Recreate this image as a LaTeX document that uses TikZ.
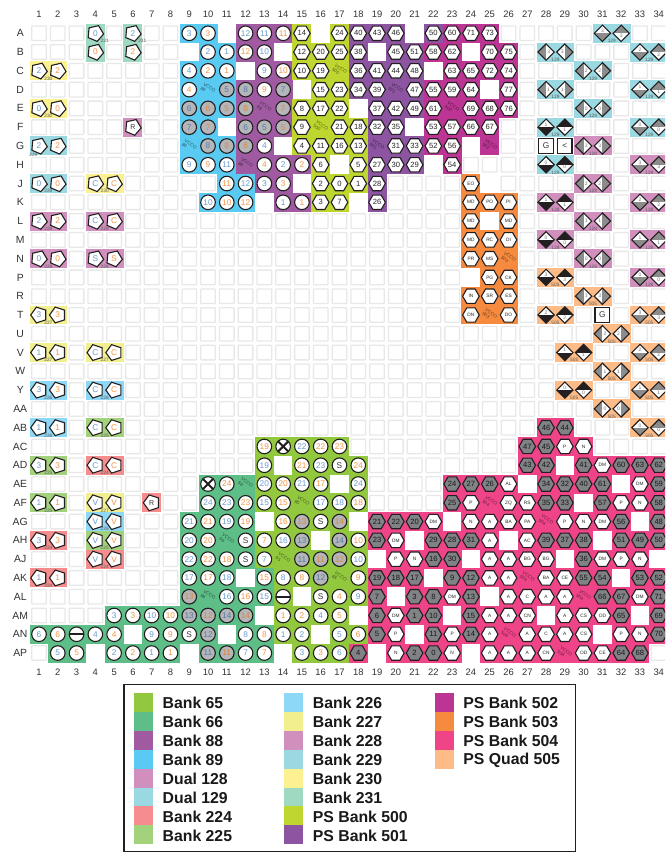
\documentclass[tikz,border=0pt]{standalone}
\usepackage{fontspec}
\setmainfont{Liberation Sans}
\usetikzlibrary{shapes.geometric}
\definecolor{bk65}{HTML}{92C83E}
\definecolor{bk66}{HTML}{5DBE87}
\definecolor{bk88}{HTML}{A05AA2}
\definecolor{bk89}{HTML}{59CAF2}
\definecolor{bk128}{HTML}{D08FBD}
\definecolor{bk129}{HTML}{9AD9E1}
\definecolor{bk224}{HTML}{F68C8D}
\definecolor{bk225}{HTML}{A3D27C}
\definecolor{bk226}{HTML}{8DD7F7}
\definecolor{bk227}{HTML}{F2EF8F}
\definecolor{bk228}{HTML}{D08FBD}
\definecolor{bk229}{HTML}{9AD9E1}
\definecolor{bk230}{HTML}{FBF190}
\definecolor{bk231}{HTML}{A0D9C2}
\definecolor{bk500}{HTML}{BED62F}
\definecolor{bk501}{HTML}{8C54A1}
\definecolor{bk502}{HTML}{BC3594}
\definecolor{bk503}{HTML}{F68B3F}
\definecolor{bk504}{HTML}{EF4488}
\definecolor{bk505}{HTML}{FDBC87}
\definecolor{pinblue}{HTML}{6C9BD2}
\definecolor{pinorange}{HTML}{F79646}
\definecolor{pinline}{HTML}{231F20}
\definecolor{pingray}{HTML}{B4B6B9}
\definecolor{hexgray}{HTML}{808285}
\definecolor{xgray}{HTML}{8C8C8C}
\definecolor{cellline}{HTML}{E8E8E8}
\tikzset{
  cellbox/.style={draw=cellline,fill=white,line width=1.3pt,rounded corners=.6pt,minimum size=14.6pt,inner sep=0pt},
  holebox/.style={fill=white,minimum size=17.2pt,inner sep=0pt},
  pinbase/.style={draw=pinline,line width=1.1pt,fill=white,inner sep=0pt,font=\fontsize{8.3}{9}\selectfont},
  cirk/.style={pinbase,circle,minimum size=14.6pt,text=black!80},
  cirb/.style={cirk,text=pinblue},
  ciro/.style={cirk,text=pinorange},
  grab/.style={cirk,fill=pingray,text=pinblue!80!black},
  grao/.style={cirk,fill=pingray,text=pinorange!90!black},
  xpin/.style={cirk,path picture={\draw[pinline,line width=2pt] (path picture bounding box.north west) -- (path picture bounding box.south east) (path picture bounding box.north east) -- (path picture bounding box.south west);}},
  barpin/.style={cirk,path picture={\draw[pinline,line width=2.4pt] (path picture bounding box.west) -- (path picture bounding box.east);}},
  hexw/.style={pinbase,regular polygon,regular polygon sides=6,minimum size=16.6pt,text=black!85,font=\fontsize{7.6}{8}\selectfont},
  hexs/.style={hexw,font=\fontsize{4.8}{5}\selectfont},
  hexg/.style={hexw,fill=hexgray,text=black!90},
  pent/.style={pinbase,regular polygon,regular polygon sides=5,minimum size=16.6pt},
  penrb/.style={pent,shape border rotate=-23,text=pinblue},
  penro/.style={pent,shape border rotate=-23,text=pinorange},
  penrk/.style={pent,shape border rotate=-23,text=black!80,font=\fontsize{7}{8}\selectfont},
  penlb/.style={pent,shape border rotate=18,text=pinblue},
  penlo/.style={pent,shape border rotate=18,text=pinorange},
  penlk/.style={pent,shape border rotate=18,text=black!80,font=\fontsize{7}{8}\selectfont},
  vcco/.style={rotate=-35,align=left,inner sep=0pt,text=black,text opacity=.55,font=\fontsize{4.7}{5}\selectfont},
  sqpin/.style={draw=pinline,fill=white,line width=1.3pt,minimum size=14.6pt,inner sep=0pt,text=black!80,font=\fontsize{8.3}{9}\selectfont},
  xcvr/.style={draw=pinline,line width=1.1pt,fill=white,diamond,shape aspect=1,minimum size=16.8pt,inner sep=0pt},
  xlab/.style={inner sep=0pt,text=black!55,font=\fontsize{5}{6}\selectfont},
  vsplita/.style={xcvr,path picture={\fill[xgray] (path picture bounding box.north west) rectangle (path picture bounding box.south);},label={[xlab,xshift=2.6pt]center:#1}},
  vsplitb/.style={xcvr,path picture={\fill[xgray] (path picture bounding box.north east) rectangle (path picture bounding box.south);},label={[xlab,xshift=-2.6pt]center:#1}},
  hsplita/.style={xcvr,path picture={\fill[xgray] (path picture bounding box.south west) rectangle (path picture bounding box.east);},label={[xlab,yshift=2.4pt]center:#1}},
  hsplitb/.style={xcvr,path picture={\fill[xgray] (path picture bounding box.north west) rectangle (path picture bounding box.east);},label={[xlab,yshift=-2.4pt]center:#1}},
  blacka/.style={xcvr,path picture={\fill[pinline] (path picture bounding box.south west) rectangle (path picture bounding box.east);},label={[xlab,yshift=2.4pt]center:#1}},
  blackb/.style={xcvr,path picture={\fill[pinline] (path picture bounding box.north west) rectangle (path picture bounding box.east);},label={[xlab,yshift=-2.4pt]center:#1}},
  banklab/.style={inner sep=0pt,text=black!65,font=\fontsize{4.8}{5}\selectfont},
  ticklab/.style={inner sep=0pt,text=black!80,font=\fontsize{9.4}{10}\selectfont},
  rowlab/.style={inner sep=0pt,text=black!80,font=\fontsize{10.4}{11}\selectfont},
  swatch/.style={minimum size=19pt,inner sep=0pt},
  legtext/.style={anchor=west,inner sep=0pt,text=black!90,font=\fontsize{15.8}{17}\selectfont\bfseries},
}
% pins of one bank in one row: col/kind/text
\newcommand{\pins}[3]{\foreach \col/\knd/\lab in {#3}{
  \fill[bk#2] (\col-.505,#1-.505) rectangle (\col+.505,#1+.505);
  \node[\knd] (pin#1-\col) at (\col,#1) {\lab};}}
\newcommand{\holes}[2]{\foreach \col in {#2}{\node[holebox] (hole#1-\col) at (\col,#1) {};}}
% pair of transceiver pins: row, bank, first col, kind, text
\newcommand{\duo}[5]{
  \fill[bk#2] (#3-.505,#1-.505) rectangle (#3+1.505,#1+.505);
  \node[#4a=#5] (xa#1-#3) at (#3,#1) {};
  \node[#4b=#5] (xb#1-#3) at (#3+1,#1) {};
  \node[banklab] (xl#1-#3) at (#3+.5,#1+.41) {#2};}
\begin{document}
\begin{tikzpicture}[x=1pt,y=-1pt]
\clip (0,0) rectangle (665,853);
\fill[white] (0,0) rectangle (665,853);
\begin{scope}[x=18.78pt,y=-18.78pt,shift={(20.22pt,-14.52pt)}]
% grid and labels
\foreach \row in {1,...,34}{\foreach \col in {1,...,34}{\node[cellbox] (cell\row-\col) at (\col,\row) {};}}
\foreach \col in {1,...,34}{
  \node[ticklab] (top\col) at (\col,0) {\col};
  \node[ticklab] (bot\col) at (\col,35) {\col};}
\foreach \rowname [count=\row] in {A,B,C,D,E,F,G,H,J,K,L,M,N,P,R,T,U,V,W,Y,AA,AB,AC,AD,AE,AF,AG,AH,AJ,AK,AL,AM,AN,AP}{
  \node[rowlab] (rowname\row) at (0,\row) {\rowname};}
% A
\pins{1}{231}{4/penrb/0,6/penrb/2}
\pins{1}{89}{9/cirb/3,10/ciro/3}
\pins{1}{88}{12/cirb/12,13/cirb/11,14/ciro/11}
\pins{1}{500}{15/hexw/14,17/hexw/24}
\pins{1}{501}{18/hexw/40,19/hexw/43,20/hexw/46,22/hexw/50}
\pins{1}{502}{23/hexw/60,24/hexw/71,25/hexw/73}
\holes{1}{11,16,21}
\duo{1}{129}{31}{hsplit}{3}
% B
\pins{2}{231}{4/penro/0,6/penro/2}
\pins{2}{89}{10/cirb/2,11/cirb/1}
\pins{2}{88}{12/ciro/12,13/cirb/10}
\pins{2}{500}{15/hexw/12,16/hexw/20,17/hexw/25}
\pins{2}{501}{18/hexw/38,20/hexw/45,21/hexw/51}
\pins{2}{502}{22/hexw/58,23/hexw/62,25/hexw/70,26/hexw/75}
\holes{2}{9,14,19,24}
\duo{2}{129}{28}{vsplit}{3}
\duo{2}{129}{33}{hsplit}{2}
% C
\pins{3}{230}{1/penrb/2,2/penro/2}
\pins{3}{89}{9/cirb/4,10/ciro/2,11/ciro/1}
\pins{3}{88}{13/cirb/9,14/ciro/10}
\pins{3}{500}{15/hexw/10,16/hexw/19,17/vcco/VCCO\\500}
\pins{3}{501}{18/hexw/36,19/hexw/41,20/hexw/44,21/hexw/48}
\pins{3}{502}{23/hexw/63,24/hexw/65,25/hexw/72,26/hexw/74}
\holes{3}{12,22}
\duo{3}{129}{30}{vsplit}{2}
% D
\pins{4}{89}{9/ciro/4,10/vcco/VCCO\\89,11/grab/5}
\pins{4}{88}{12/grab/8,13/ciro/9,14/grab/7}
\pins{4}{500}{16/hexw/15,17/hexw/23}
\pins{4}{501}{18/hexw/34,19/hexw/39,20/vcco/VCCO\\501,21/hexw/47}
\pins{4}{502}{22/hexw/55,23/hexw/59,24/hexw/64,26/hexw/77}
\holes{4}{15,25}
\duo{4}{129}{28}{vsplit}{1}
\duo{4}{129}{33}{hsplit}{1}
% E
\pins{5}{230}{1/penrb/0,2/penro/0}
\pins{5}{89}{9/grab/6,10/grao/6,11/grao/5}
\pins{5}{88}{12/grao/8,13/vcco/VCCO\\88,14/grao/7}
\pins{5}{500}{15/hexw/8,16/hexw/17,17/hexw/22}
\pins{5}{501}{19/hexw/37,20/hexw/42,21/hexw/49}
\pins{5}{502}{22/hexw/61,23/vcco/VCCO\\502,24/hexw/69,25/hexw/68,26/hexw/76}
\holes{5}{18}
\duo{5}{129}{30}{vsplit}{0}
% F
\pins{6}{228}{6/penrk/R}
\pins{6}{89}{9/grab/7,10/grao/7}
\pins{6}{88}{12/grab/6,13/grab/5,14/grao/5}
\pins{6}{500}{15/hexw/9,16/vcco/VCCO\\500,17/hexw/21,18/hexw/18}
\pins{6}{501}{19/hexw/32,20/hexw/35}
\pins{6}{502}{22/hexw/53,23/hexw/57,24/hexw/66,25/hexw/67}
\holes{6}{11,21}
\duo{6}{129}{28}{black}{1}
\duo{6}{129}{33}{hsplit}{0}
% G
\pins{7}{229}{1/penrb/2,2/penro/2}
\pins{7}{89}{9/vcco/VCCO\\89,10/grab/8,11/grao/8}
\pins{7}{88}{12/grao/6,13/cirb/4}
\pins{7}{500}{15/hexw/4,16/hexw/11,17/hexw/16,18/hexw/13}
\pins{7}{501}{19/vcco/VCCO\\501,20/hexw/31,21/hexw/33}
\pins{7}{502}{22/hexw/52,23/hexw/56,25/vcco/VCCO\\502}
\holes{7}{14,24}
\node[sqpin] (sqG) at (28,7) {G};
\node[sqpin] (sqlt) at (29,7) {<};
\duo{7}{128}{30}{vsplit}{3}
% H
\pins{8}{89}{9/cirb/9,10/ciro/9,11/cirb/11}
\pins{8}{88}{12/vcco/VCCO\\88,13/ciro/4,14/cirb/2,15/ciro/2}
\pins{8}{500}{16/hexw/6,18/hexw/5}
\pins{8}{501}{19/hexw/27,20/hexw/30,21/hexw/29}
\pins{8}{502}{23/hexw/54}
\holes{8}{17,22}
\duo{8}{129}{28}{black}{0}
\duo{8}{128}{33}{hsplit}{3}
% J
\pins{9}{229}{1/penrb/0,2/penro/0}
\pins{9}{230}{4/penrb/C,5/penro/C}
\pins{9}{89}{11/ciro/11,12/cirb/12}
\pins{9}{88}{13/cirb/3,14/ciro/3}
\pins{9}{500}{16/hexw/2,17/hexw/0,18/hexw/1}
\pins{9}{501}{19/hexw/28}
\pins{9}{503}{24/hexs/EO}
\holes{9}{15,25}
\duo{9}{128}{30}{vsplit}{2}
% K
\pins{10}{89}{10/cirb/10,11/ciro/10,12/ciro/12}
\pins{10}{88}{14/cirb/1,15/ciro/1}
\pins{10}{500}{16/hexw/3,17/hexw/7}
\pins{10}{501}{19/hexw/26}
\pins{10}{503}{24/hexs/MD,25/hexs/PO,26/hexs/PI}
\holes{10}{13,18}
\duo{10}{128}{28}{black}{1}
\duo{10}{128}{33}{hsplit}{2}
% L
\pins{11}{228}{1/penrb/2,2/penro/2,4/penrb/C,5/penro/C}
\pins{11}{503}{24/hexs/MD,26/hexs/MD}
\holes{11}{25}
\duo{11}{128}{30}{vsplit}{1}
% M
\pins{12}{503}{24/hexs/MD,25/hexs/RC,26/hexs/DI}
\duo{12}{128}{28}{black}{0}
\duo{12}{128}{33}{hsplit}{1}
% N
\pins{13}{228}{1/penrb/0,2/penro/0,4/penrb/S,5/penro/S}
\pins{13}{503}{24/hexs/PR,25/hexs/MS,26/vcco/VCCO\\503}
\duo{13}{128}{30}{vsplit}{0}
% P
\pins{14}{503}{25/hexs/PG,26/hexs/CK}
\holes{14}{24}
\duo{14}{505}{28}{black}{3}
\duo{14}{128}{33}{hsplit}{0}
% R
\pins{15}{503}{24/hexs/IN,25/hexs/SR,26/hexs/ES}
\duo{15}{505}{30}{vsplit}{3}
% T
\pins{16}{227}{1/penlb/3,2/penlo/3}
\pins{16}{503}{24/hexs/DN,25/vcco/VCCO\\503,26/hexs/DO}
\duo{16}{505}{28}{black}{2}
\node[sqpin] (sqG2) at (31,16) {G};
\duo{16}{505}{33}{hsplit}{3}
% U
\duo{17}{505}{31}{vsplit}{2}
% V
\pins{18}{227}{1/penlb/1,2/penlo/1,4/penlb/C,5/penlo/C}
\duo{18}{505}{29}{black}{1}
\duo{18}{505}{33}{hsplit}{2}
% W
\duo{19}{505}{31}{vsplit}{1}
% Y
\pins{20}{226}{1/penlb/3,2/penlo/3,4/penlb/C,5/penlo/C}
\duo{20}{505}{29}{black}{0}
\duo{20}{505}{33}{hsplit}{1}
% AA
\duo{21}{505}{31}{vsplit}{0}
% AB
\pins{22}{226}{1/penlb/1,2/penlo/1}
\pins{22}{225}{4/penlb/C,5/penlo/C}
\pins{22}{504}{28/hexg/46,29/hexg/44}
\duo{22}{505}{33}{hsplit}{0}
% AC
\pins{23}{65}{13/ciro/19,14/xpin/{},15/cirb/22,16/ciro/22,17/ciro/23}
\pins{23}{504}{27/hexg/47,28/hexg/45,29/hexs/P,30/hexs/N}
% AD
\pins{24}{225}{1/penlb/3,2/penlo/3}
\pins{24}{224}{4/penlb/C,5/penlo/C}
\pins{24}{65}{13/cirb/19,15/ciro/21,16/cirb/23,17/cirk/S,18/ciro/24}
\pins{24}{504}{27/hexg/43,28/hexg/42,30/hexg/41,31/hexs/DM,32/hexg/60,33/hexg/63,34/hexg/62}
\holes{24}{14,29}
% AE
\pins{25}{66}{10/xpin/{},11/ciro/24,12/vcco/VCCO\\66}
\pins{25}{65}{13/cirb/20,14/ciro/20,15/cirb/21,16/ciro/17,18/cirb/24}
\pins{25}{504}{23/hexg/24,24/hexg/27,25/hexg/26,26/hexs/AL,28/hexg/34,29/hexg/32,30/hexg/40,31/hexg/61,33/hexs/DM,34/hexg/59}
\holes{25}{17,27,32}
% AF
\pins{26}{225}{1/penlb/1,2/penlo/1}
\pins{26}{227}{4/penlb/V,5/penlo/V}
\pins{26}{224}{7/penlk/R}
\pins{26}{66}{10/cirb/24,11/cirb/23,12/ciro/23}
\pins{26}{65}{13/cirb/15,14/ciro/15,15/vcco/VCCO\\65,16/cirb/17,17/cirb/18,18/ciro/18}
\pins{26}{504}{23/hexg/25,24/hexs/P,25/vcco/VCCO\\504,26/hexs/ZQ,27/hexs/RS,28/hexg/35,29/hexg/33,31/hexg/57,32/hexs/P,33/hexs/N,34/hexg/58}
\holes{26}{30}
% AG
\pins{27}{226}{4/penlb/V,5/penlo/V}
\pins{27}{66}{9/cirb/21,10/ciro/21,11/cirb/19,12/ciro/19}
\pins{27}{65}{14/ciro/16,15/grao/13,16/cirk/S,17/grao/14}
\pins{27}{504}{19/hexg/21,20/hexg/22,21/hexg/20,22/hexs/DM,24/hexs/N,25/hexs/A,26/hexs/BA,27/hexs/PA,28/vcco/VCCO\\504,29/hexs/P,30/hexs/N,31/hexs/DM,32/hexg/56,34/hexg/48}
\holes{27}{13,18,23,33}
% AH
\pins{28}{224}{1/penlb/3,2/penlo/3}
\pins{28}{225}{4/penlb/V,5/penlo/V}
\pins{28}{66}{9/cirb/20,10/ciro/20,11/vcco/VCCO\\66,12/cirk/S}
\pins{28}{65}{13/ciro/7,14/cirb/16,15/grab/13,17/grab/14,18/ciro/10}
\pins{28}{504}{19/hexg/23,20/hexs/DM,22/hexg/29,23/hexg/28,24/hexg/31,25/hexs/A,27/hexs/AC,28/hexg/39,29/hexg/37,30/hexg/38,32/hexg/51,33/hexg/49,34/hexg/50}
\holes{28}{16,21,26,31}
% AJ
\pins{29}{224}{4/penlb/V,5/penlo/V}
\pins{29}{66}{9/cirb/22,10/ciro/22,11/ciro/18,12/cirk/S}
\pins{29}{65}{13/cirb/7,14/vcco/VCCO\\65,15/grab/11,16/grao/11,17/grao/12,18/cirb/10}
\pins{29}{504}{20/hexs/P,21/hexs/N,22/hexg/16,23/hexg/30,25/hexs/A,26/hexs/A,27/hexs/BG,28/hexs/BG,30/hexg/36,31/hexs/DM,32/hexs/P,33/hexs/N}
\holes{29}{19,24,29,34}
% AK
\pins{30}{224}{1/penlb/1,2/penlo/1}
\pins{30}{66}{9/cirb/17,10/ciro/17,11/cirb/18,13/ciro/15}
\pins{30}{65}{14/cirb/8,15/ciro/8,16/grab/12,17/vcco/VCCO\\65,18/ciro/9}
\pins{30}{504}{19/hexg/19,20/hexg/18,21/hexg/17,23/hexg/9,24/hexg/12,25/hexs/A,26/hexs/A,27/vcco/VCCO\\504,28/hexs/BA,29/hexs/CE,30/hexg/55,31/hexg/54,33/hexg/53,34/hexg/52}
\holes{30}{12,22,32}
% AL
\pins{31}{66}{9/grao/13,10/vcco/VCCO\\66,11/cirb/16,12/ciro/16,13/cirb/15}
\pins{31}{65}{14/barpin/{},16/cirk/S,17/ciro/4,18/cirb/9}
\pins{31}{504}{19/hexg/7,21/hexg/3,22/hexg/8,23/hexs/DM,24/hexg/13,26/hexs/A,27/hexs/C,28/hexs/A,29/hexs/A,30/vcco/VCCO\\504,31/hexg/66,32/hexg/67,33/hexs/DM,34/hexg/71}
\holes{31}{15,20,25}
% AM
\pins{32}{66}{5/cirb/3,6/ciro/3,7/cirb/10,8/ciro/10,9/grab/13,10/grao/12,11/grab/14,12/grao/14}
\pins{32}{65}{14/ciro/1,15/ciro/2,16/cirb/4,17/ciro/5}
\pins{32}{504}{19/hexg/6,20/hexs/DM,21/hexg/1,22/hexg/10,24/hexg/15,25/hexs/A,26/hexs/A,27/hexs/CN,29/hexs/A,30/hexs/CS,31/hexs/OD,32/hexg/65,34/hexg/69}
\holes{32}{13,18,23,28,33}
% AN
\pins{33}{66}{1/cirb/6,2/ciro/6,3/barpin/{},4/cirb/4,5/ciro/4,7/cirb/9,8/ciro/9,9/cirk/S,10/grab/12,12/cirb/8,13/ciro/8}
\pins{33}{65}{14/cirb/1,15/cirb/2,17/cirb/5,18/ciro/6}
\pins{33}{504}{19/hexg/5,20/hexs/P,22/hexg/11,23/hexs/P,24/hexg/14,25/hexs/A,26/vcco/VCCO\\504,27/hexs/A,28/hexs/C,29/hexs/A,30/hexs/CS,32/hexs/P,33/hexs/N,34/hexg/70}
\holes{33}{6,11,16,21,31}
% AP
\pins{34}{66}{2/cirb/5,3/ciro/5,5/cirb/2,6/ciro/2,7/cirb/1,8/ciro/1,10/grab/11,11/grao/11,12/cirb/7,13/ciro/7}
\pins{34}{65}{15/cirb/3,16/ciro/3,17/cirb/6}
\pins{34}{504}{18/hexg/4,20/hexs/N,21/hexg/2,22/hexg/0,23/hexs/N,25/hexs/A,26/hexs/A,27/hexs/A,28/hexs/CN,29/vcco/VCCO\\504,30/hexs/OD,31/hexs/CE,32/hexg/64,33/hexg/68}
\holes{34}{4,9,14,19,24}
% small bank numbers
\foreach \row/\col/\lab in {1/4/231,1/6/231,3/1/230,5/1/230,9/1/229,9/4/230,11/1/228,11/4/228,13/1/228,13/4/228,
  16/1/227,18/1/227,18/4/227,20/1/226,20/4/226,22/1/226,22/4/225,24/1/225,24/4/224,26/1/225,26/4/227,
  27/4/226,28/1/224,28/4/225,29/4/224,30/1/224}{
  \node[banklab] (bank\row-\col) at (\col+.5,\row+.41) {\lab};}
\node[banklab] (bank7-1) at (.7,7.46) {229};
\end{scope}
% legend
\draw[pinline,line width=1.8pt] (124,684.5) rectangle (575.5,851.5);
\foreach \bankname/\bankcol [count=\i] in {Bank 65/65,Bank 66/66,Bank 88/88,Bank 89/89,Dual 128/128,Dual 129/129,Bank 224/224,Bank 225/225}{
  \node[swatch,fill=bk\bankcol] (swa\i) at (143.5,683.6+18.9*\i) {};
  \node[legtext] (lega\i) at (162.5,684.4+18.9*\i) {\bankname};}
\foreach \bankname/\bankcol [count=\i] in {Bank 226/226,Bank 227/227,Bank 228/228,Bank 229/229,Bank 230/230,Bank 231/231,PS Bank 500/500,PS Bank 501/501}{
  \node[swatch,fill=bk\bankcol] (swb\i) at (293.5,683.6+18.9*\i) {};
  \node[legtext] (legb\i) at (312.7,684.4+18.9*\i) {\bankname};}
\foreach \bankname/\bankcol [count=\i] in {PS Bank 502/502,PS Bank 503/503,PS Bank 504/504,PS Quad 505/505}{
  \node[swatch,fill=bk\bankcol] (swc\i) at (444.5,683.6+18.9*\i) {};
  \node[legtext] (legc\i) at (463.2,684.4+18.9*\i) {\bankname};}
\end{tikzpicture}
\end{document}
